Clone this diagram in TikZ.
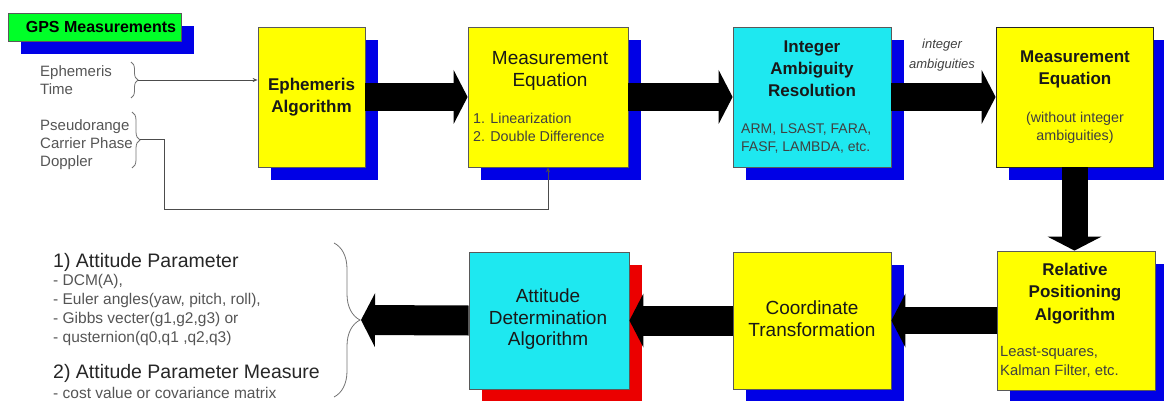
\documentclass[tikz,border=0pt]{standalone}
\usepackage{fontspec}
\setmainfont{Liberation Sans}
\usetikzlibrary{arrows.meta,decorations.pathreplacing,backgrounds}
\definecolor{yel}{RGB}{255,255,0}
\definecolor{cya}{RGB}{30,232,240}
\definecolor{sblue}{RGB}{0,0,230}
\definecolor{sred}{RGB}{235,0,0}
\definecolor{grn}{RGB}{0,255,40}
\definecolor{txtgray}{RGB}{85,85,85}
\begin{document}
\begin{tikzpicture}[x=1pt,y=-1pt,
  box/.style={draw=black!65, line width=0.8pt, inner sep=0pt, rectangle},
  bigarrow/.style={draw=black, line width=28pt, -{Triangle[width=54pt,length=14pt,line width=0pt]}},
  thinline/.style={draw=black!70, line width=0.9pt},
  brc/.style={draw=black!55, line width=0.8pt, decorate, decoration={brace, amplitude=#1}},
  ttl/.style={font=\fontsize{17}{22.5}\selectfont\bfseries, align=center, text=black!90, inner sep=0pt},
  ttlr/.style={font=\fontsize{19}{22}\selectfont, align=center, text=black!90, inner sep=0pt},
  lst/.style={font=\fontsize{14.3}{18}\selectfont, align=left, text=black!75, inner sep=0pt, anchor=west},
  side/.style={font=\fontsize{15}{18}\selectfont, align=left, text=txtgray, inner sep=0pt, anchor=west},
]
\useasboundingbox (0,0) rectangle (1164,401);

% boxes
\node[box, fill=grn, minimum width=173pt, minimum height=28pt] (gps) at (94.5,27) {};
\node[box, fill=yel, minimum width=107pt, minimum height=140pt] (ephA) at (311.5,97) {};
\node[box, fill=yel, minimum width=160pt, minimum height=140pt] (me1) at (548,97) {};
\node[box, fill=cya, minimum width=158pt, minimum height=140pt] (iar) at (812,97) {};
\node[box, draw=black!85, fill=yel, minimum width=157pt, minimum height=140pt] (me2) at (1074.5,97) {};
\node[box, fill=yel, minimum width=158pt, minimum height=139pt] (rp) at (1076,320.5) {};
\node[box, fill=yel, minimum width=158pt, minimum height=137pt] (ct) at (812,320.5) {};
\node[box, fill=cya, minimum width=160pt, minimum height=137pt] (ada) at (549,320.5) {};

% shadows
\begin{scope}[on background layer]
\foreach \n/\c in {gps/sblue, ephA/sblue, me1/sblue, iar/sblue, me2/sblue, rp/sblue, ct/sblue, ada/sred}
  \fill[\c] ([shift={(13,13)}]\n.north west) rectangle ([shift={(13,13)}]\n.south east);
\end{scope}

% box texts
\node[font=\fontsize{16}{18}\selectfont\bfseries, inner sep=0pt] (gpst) at (101,27) {GPS Measurements};
\node[ttl] (ephAt) at (ephA.center) {Ephemeris\\Algorithm};
\node[ttlr] (me1t) at (550,71) {Measurement\\Equation};
\node[lst] (me1l) at (473,127) {1. Linearization\\2. Double Difference};
\node[ttl, font=\fontsize{17}{22}\selectfont\bfseries] (iart) at (812,69) {Integer\\Ambiguity\\Resolution};
\node[lst, font=\fontsize{14}{18}\selectfont] (iarl) at (741,139) {ARM, LSAST, FARA,\\FASF, LAMBDA, etc.};
\node[ttl, font=\fontsize{17}{22}\selectfont\bfseries] (me2t) at (1075,69) {Measurement\\Equation};
\node[lst, anchor=center, align=center] (me2l) at (1075,128) {(without integer\\ambiguities)};
\node[ttl] (rpt) at (1075,293.5) {Relative\\Positioning\\Algorithm};
\node[lst, font=\fontsize{14.8}{19}\selectfont] (rpl) at (1000,361.5) {Least-squares,\\Kalman Filter, etc.};
\node[ttlr] (ctt) at (812,319) {Coordinate\\Transformation};
\node[ttlr, font=\fontsize{19}{21.5}\selectfont] (adat) at (548,319.5) {Attitude\\Determination\\Algorithm};
\node[font=\fontsize{13}{20}\selectfont\itshape, align=center, text=black!75, inner sep=0pt] (ia) at (942,55) {integer\\ambiguities};

% side texts
\node[side] (et) at (40,80) {Ephemeris\\Time};
\node[side] (pc) at (40,145) {Pseudorange\\Carrier Phase\\Doppler};
\node[font=\fontsize{19.5}{22}\selectfont, text=black!85, inner sep=0pt, anchor=west] (ap1) at (53,262) {1) Attitude Parameter};
\node[side, font=\fontsize{15.5}{18.7}\selectfont] (apl) at (53,310) {- DCM(A),\\- Euler angles(yaw, pitch, roll),\\- Gibbs vecter(g1,g2,g3) or\\- qusternion(q0,q1 ,q2,q3)};
\node[font=\fontsize{19.5}{22}\selectfont, text=black!85, inner sep=0pt, anchor=west] (ap2) at (53,373) {2) Attitude Parameter Measure};
\node[side, font=\fontsize{15.5}{18}\selectfont] (apm) at (53,393) {- cost value or covariance matrix};

% braces
\draw[brc=7pt] (131,62) -- (131,98);
\draw[brc=8pt] (132,112) -- (132,168);
\draw[brc=26pt] (334,243) -- (334,397);
\coordinate (eb) at (138,80);
\coordinate (pb) at (140,139);
\coordinate (pc1) at (164,209);
\coordinate (bt) at (361,320);

% thin connectors
\draw[thinline, -{Stealth[length=5pt,width=4pt]}] (eb) -- (eb -| ephA.west);
\draw[thinline, -{Stealth[length=5pt,width=4pt]}] (pb) -| (pc1) -| (me1.south);

% big arrows
\draw[bigarrow] (ephA.east) -- (me1.west);
\draw[bigarrow] (me1.east) -- (iar.west);
\draw[bigarrow] (iar.east) -- (me2.west);
\draw[bigarrow, line width=26pt] (me2.south) -- (me2.south |- rp.north);
\draw[bigarrow, line width=27pt] (rp.west) -- (ct.east);
\draw[bigarrow, line width=30pt] (ct.west) -- (ada.east);
\draw[bigarrow, line width=30pt] (ada.west) -- (bt);
\end{tikzpicture}
\end{document}
